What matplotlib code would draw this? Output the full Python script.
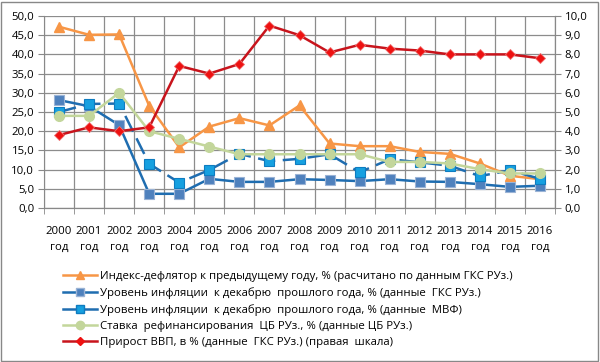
import matplotlib
matplotlib.use("Agg")
import matplotlib.pyplot as plt
from matplotlib.lines import Line2D
import numpy as np

years = [str(y) for y in range(2000, 2017)]
x_labels = [f"{y}\nгод" for y in years]

deflator = [47.2, 45.1, 45.2, 26.6, 15.8, 21.2, 23.4, 21.5, 26.7, 16.8, 16.1, 16.1, 14.6, 14.1, 11.6, 8.4, 7.5]
infl_gks = [28.1, 26.5, 21.6, 3.7, 3.7, 7.6, 6.8, 6.8, 7.5, 7.3, 7.0, 7.5, 6.9, 6.8, 6.2, 5.5, 5.8]
infl_imf = [25.0, 27.1, 27.2, 11.5, 6.6, 9.9, 14.1, 12.2, 12.8, 14.0, 9.3, 12.7, 11.9, 11.0, 8.3, 9.8, 7.6]
refin = [24.0, 24.0, 30.0, 20.0, 18.0, 16.0, 14.0, 14.0, 14.0, 14.0, 14.0, 12.0, 12.0, 11.6, 10.1, 9.0, 9.0]
gdp = [3.8, 4.2, 4.0, 4.2, 7.4, 7.0, 7.5, 9.5, 9.0, 8.1, 8.5, 8.3, 8.2, 8.0, 8.0, 8.0, 7.8]

labels = [
    "Индекс-дефлятор к предыдущему году, % (расчитано по данным ГКС РУз.)",
    "Уровень инфляции  к декабрю  прошлого года, % (данные  ГКС РУз.)",
    "Уровень инфляции  к декабрю  прошлого года, % (данные  МВФ)",
    "Ставка  рефинансирования  ЦБ РУз., % (данные ЦБ РУз.)",
    "Прирост ВВП, в % (данные  ГКС РУз.) (правая  шкала)",
]

plt.rcParams['font.family'] = ['Open Sans', 'DejaVu Sans']
FS = 8.2

fig = plt.figure(figsize=(6.0, 3.62), dpi=100)
W, H = 600, 362
ax = fig.add_axes([44 / W, 1 - 208 / H, (555 - 44) / W, (208 - 16) / H])
ax2 = ax.twinx()

x = np.arange(len(years))
c_or = "#F79646"
c_db = "#1F6DB0"
c_dbm = "#4F81BD"
c_lbm = "#16A0E0"
c_gr = "#C3D69B"
c_rd = "#C8141C"
c_rdm = "#EE1111"

ax.plot(x, deflator, color=c_or, lw=1.8, marker="^", ms=7, mfc=c_or, mec=c_or, zorder=3)
ax.plot(x, infl_gks, color=c_db, lw=1.8, marker="s", ms=6.5, mfc=c_dbm, mec="#9AB3D5", mew=0.8, zorder=4)
ax.plot(x, infl_imf, color=c_db, lw=1.8, ls=(0, (7, 3)), marker="s", ms=6.5, mfc=c_lbm, mec="#0E7CC0", mew=0.8, zorder=4)
ax.plot(x, refin, color=c_gr, lw=1.8, marker="o", ms=7, mfc=c_gr, mec=c_gr, zorder=5)
ax2.plot(x, gdp, color=c_rd, lw=1.8, marker="D", ms=5.5, mfc=c_rdm, mec="#F07070", mew=0.6, zorder=6)

ax.set_xlim(-0.5, len(years) - 0.5)
ax.set_ylim(0, 50)
ax2.set_ylim(0, 10)
ax.set_yticks(np.arange(0, 50.1, 5))
ax.set_yticklabels([f"{v:.1f}".replace(".", ",") for v in np.arange(0, 50.1, 5)], fontsize=FS)
ax2.set_yticks(np.arange(0, 10.1, 1))
ax2.set_yticklabels([f"{v:.1f}".replace(".", ",") for v in np.arange(0, 10.1, 1)], fontsize=FS)

ax.set_xticks(x)
ax.set_xticklabels(x_labels, fontsize=FS, linespacing=1.6)
ax.set_xticks(np.arange(-0.5, len(years), 1), minor=True)
ax.tick_params(axis="x", which="major", length=0, pad=13)
ax.tick_params(axis="x", which="minor", length=4, color="#888888")
ax.tick_params(axis="y", length=4, color="#888888", pad=3)
ax2.tick_params(axis="y", length=4, color="#888888", pad=3)

ax.grid(True, which="minor", axis="x", color="#8C8C8C", lw=0.9)
ax.grid(True, which="major", axis="y", color="#8C8C8C", lw=0.9)
ax.set_axisbelow(True)
for a in (ax, ax2):
    a.spines["top"].set_visible(False)
    a.spines["left"].set_color("#888888")
    a.spines["right"].set_color("#888888")
    a.spines["bottom"].set_color("#888888")
ax2.spines["left"].set_visible(False)

handles = [
    Line2D([], [], color=c_or, lw=1.8, marker="^", ms=6, mfc=c_or, mec=c_or),
    Line2D([], [], color=c_db, lw=1.8, marker="s", ms=6, mfc=c_dbm, mec="#9AB3D5"),
    Line2D([], [], color=c_db, lw=1.8, marker="s", ms=6, mfc=c_lbm, mec="#0E7CC0"),
    Line2D([], [], color=c_gr, lw=1.8, marker="o", ms=6, mfc=c_gr, mec=c_gr),
    Line2D([], [], color=c_rd, lw=1.8, marker="D", ms=4.5, mfc=c_rdm, mec=c_rdm),
]
fig.legend(handles, labels, loc="upper left", bbox_to_anchor=(58 / W, 1 - 266 / H),
           frameon=False, fontsize=FS, handlelength=3.0, handletextpad=0.3,
           labelspacing=0.46, borderaxespad=0)

fig.patches.append(plt.Rectangle((1 / W, 1 / H), 1 - 3 / W, 1 - 3 / H, transform=fig.transFigure,
                                 fill=False, edgecolor="#888888", lw=1))
fig.savefig("out.png", dpi=100)
